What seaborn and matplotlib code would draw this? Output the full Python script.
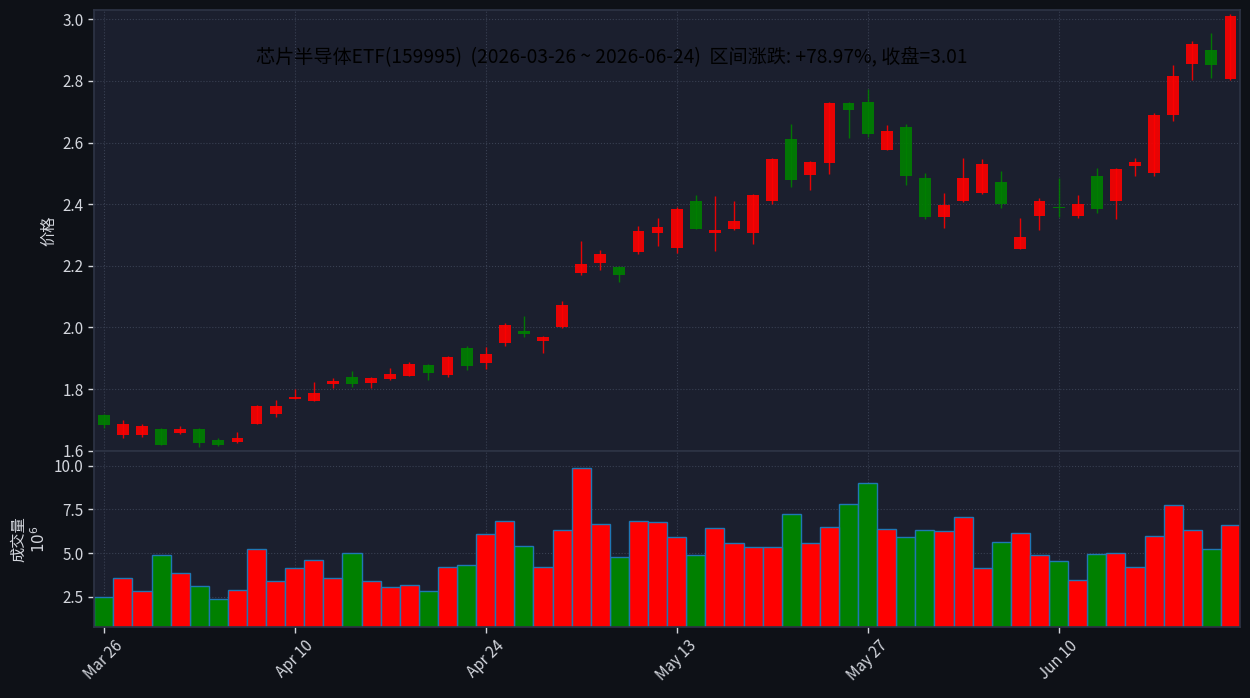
import matplotlib
matplotlib.use("Agg")
import matplotlib.pyplot as plt
import numpy as np
import pandas as pd
import seaborn as sns

# trading calendar (SZSE, 2026) and OHLCV
holidays = ["2026-04-06", "2026-05-01", "2026-05-04", "2026-05-05", "2026-06-19"]
dates = pd.bdate_range("2026-03-26", "2026-06-24", freq="C", holidays=holidays)

opens = [1.716, 1.650, 1.650, 1.671, 1.659, 1.671, 1.636, 1.627, 1.688, 1.718,
         1.768, 1.760, 1.815, 1.839, 1.821, 1.833, 1.844, 1.878, 1.847, 1.933,
         1.886, 1.950, 1.988, 1.957, 2.002, 2.175, 2.210, 2.196, 2.246, 2.308,
         2.259, 2.411, 2.305, 2.321, 2.305, 2.411, 2.612, 2.493, 2.535, 2.729,
         2.732, 2.577, 2.651, 2.485, 2.357, 2.409, 2.435, 2.472, 2.256, 2.360,
         2.392, 2.360, 2.492, 2.411, 2.525, 2.502, 2.688, 2.856, 2.901, 2.806]
highs = [1.719, 1.699, 1.687, 1.674, 1.681, 1.673, 1.641, 1.660, 1.748, 1.765,
         1.799, 1.823, 1.835, 1.859, 1.838, 1.868, 1.888, 1.880, 1.907, 1.940,
         1.935, 2.013, 2.036, 1.972, 2.085, 2.280, 2.250, 2.199, 2.328, 2.354,
         2.390, 2.430, 2.426, 2.410, 2.434, 2.550, 2.659, 2.541, 2.731, 2.731,
         2.772, 2.656, 2.659, 2.501, 2.435, 2.549, 2.545, 2.506, 2.354, 2.419,
         2.484, 2.429, 2.517, 2.518, 2.549, 2.695, 2.850, 2.928, 2.955, 3.016]
lows = [1.675, 1.641, 1.644, 1.617, 1.653, 1.612, 1.614, 1.624, 1.686, 1.709,
        1.768, 1.760, 1.803, 1.806, 1.803, 1.829, 1.842, 1.829, 1.839, 1.861,
        1.864, 1.939, 1.969, 1.917, 1.997, 2.169, 2.185, 2.146, 2.237, 2.263,
        2.241, 2.318, 2.247, 2.315, 2.270, 2.400, 2.457, 2.445, 2.497, 2.614,
        2.619, 2.575, 2.462, 2.351, 2.323, 2.407, 2.433, 2.387, 2.254, 2.316,
        2.358, 2.355, 2.371, 2.351, 2.491, 2.491, 2.670, 2.803, 2.810, 2.804]
closes = [1.683, 1.687, 1.681, 1.619, 1.671, 1.624, 1.617, 1.642, 1.746, 1.746,
          1.775, 1.788, 1.826, 1.815, 1.836, 1.849, 1.881, 1.853, 1.904, 1.876,
          1.914, 2.007, 1.979, 1.969, 2.073, 2.206, 2.238, 2.171, 2.313, 2.326,
          2.385, 2.321, 2.317, 2.346, 2.430, 2.547, 2.477, 2.537, 2.729, 2.707,
          2.629, 2.638, 2.490, 2.357, 2.398, 2.485, 2.531, 2.402, 2.294, 2.411,
          2.386, 2.401, 2.383, 2.515, 2.537, 2.690, 2.816, 2.920, 2.853, 3.012]
volumes = [2.52, 3.61, 2.86, 4.88, 3.88, 3.15, 2.40, 2.92, 5.22, 3.42,
           4.13, 4.59, 3.61, 4.99, 3.42, 3.06, 3.21, 2.85, 4.23, 4.31,
           6.07, 6.84, 5.40, 4.23, 6.32, 9.87, 6.67, 4.81, 6.84, 6.78,
           5.92, 4.92, 6.42, 5.61, 5.34, 5.34, 7.24, 5.57, 6.49, 7.82,
           9.03, 6.38, 5.92, 6.32, 6.26, 7.07, 4.14, 5.63, 6.15, 4.89,
           4.54, 3.45, 4.94, 5.00, 4.20, 5.98, 7.76, 6.32, 5.23, 6.61]  # x 1e6

name = "芯片半导体ETF(159995)"

bgFig = "#0e1117"
bgAx = "#1b1f2e"
textCol = "#d3d6dd"
gridCol = "#394052"
spineCol = "#2d3344"
upCol = "red"
downCol = "green"

df = pd.DataFrame({"date": dates, "open": opens, "high": highs, "low": lows,
                   "close": closes, "volume": volumes})
df["idx"] = np.arange(len(df))
df["dir"] = np.where(df["close"] >= df["open"], "up", "down")
colours = [upCol if d == "up" else downCol for d in df["dir"]]

sns.set_theme(style="dark", rc={
    "figure.facecolor": bgFig,
    "axes.facecolor": bgAx,
    "axes.edgecolor": spineCol,
    "axes.labelcolor": textCol,
    "xtick.color": textCol,
    "ytick.color": textCol,
    "xtick.bottom": True,
    "ytick.left": True,
})
plt.rcParams["font.family"] = ["Noto Sans CJK SC", "DejaVu Sans"]
plt.rcParams["axes.unicode_minus"] = False

fig, (ax, axv) = plt.subplots(2, 1, sharex=True, figsize=(12.5, 6.98), dpi=100,
                              gridspec_kw={"height_ratios": [2.5, 1], "hspace": 0})
fig.subplots_adjust(left=0.0754, right=0.992, top=0.9857, bottom=0.1017)

# candles
ax.vlines(df["idx"], df["low"], df["high"], colors=colours, linewidth=1, alpha=0.9)
bodyLow = np.minimum(df["open"], df["close"])
bodyH = np.maximum(np.abs(df["close"] - df["open"]), 0.004)
ax.bar(df["idx"], bodyH, bottom=bodyLow, width=0.62, color=colours,
       alpha=0.9, linewidth=0)

# volume
sns.barplot(data=df, x="idx", y="volume", hue="dir",
            palette={"up": upCol, "down": downCol}, saturation=1, width=1,
            dodge=False, edgecolor="#1f77b4", linewidth=1, legend=False, ax=axv)

ax.set_ylim(1.6, 3.03)
ax.set_yticks(np.arange(1.6, 3.01, 0.2))
ax.yaxis.set_major_formatter(matplotlib.ticker.FormatStrFormatter("%.1f"))
axv.set_ylim(0.78, 10.86)
axv.set_yticks([2.5, 5.0, 7.5, 10.0])
axv.yaxis.set_major_formatter(matplotlib.ticker.FormatStrFormatter("%.1f"))

tickPos = list(range(0, len(df), 10))
axv.set_xlim(-0.5, len(df) - 0.5)
axv.set_xticks(tickPos)
axv.set_xticklabels([df["date"][i].strftime("%b %d") for i in tickPos],
                    rotation=45, fontsize=11)
ax.tick_params(axis="x", bottom=False, labelbottom=False)

for a in (ax, axv):
    a.grid(True, linestyle=":", color=gridCol, linewidth=0.8)
    a.tick_params(axis="y", labelsize=11, length=4, width=1, colors=textCol)
    a.tick_params(axis="x", length=4, width=1, colors=textCol)
    a.set_xlabel("")
    for s in a.spines.values():
        s.set_color(spineCol)

ax.set_ylabel("价格", fontsize=11)
axv.set_ylabel("成交量\n$10^{6}$", fontsize=11)

chg = (closes[-1] / closes[0] - 1) * 100
title = (f"{name}  ({dates[0]:%Y-%m-%d} ~ {dates[-1]:%Y-%m-%d})  "
         f"区间涨跌: {chg:+.2f}%, 收盘={closes[-1]:.2f}")
fig.text(0.489, 0.918, title, ha="center", va="center", fontsize=13.8, color="black")

fig.savefig("out.png", dpi=100, facecolor=bgFig)
